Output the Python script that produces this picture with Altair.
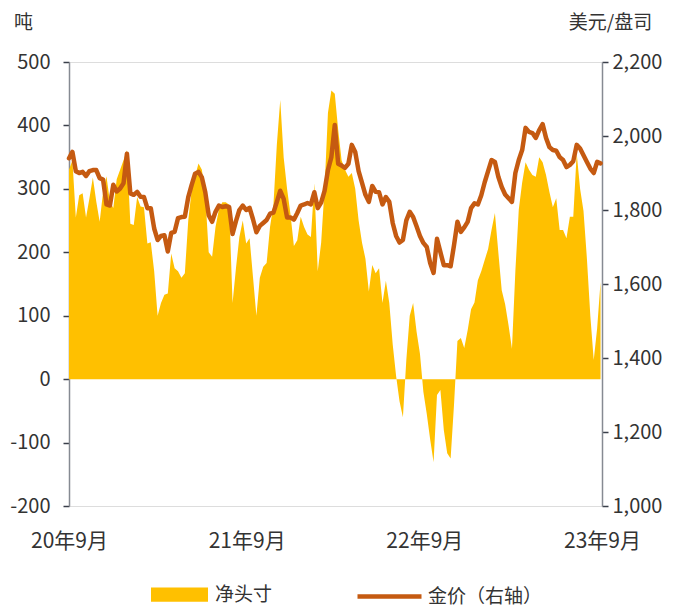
import altair as alt
import pandas as pd

net_position = [
    330, 345, 255, 290, 293, 255, 285, 318, 280, 248,
    295, 320, 280, 270, 315, 330, 345, 361, 245, 243,
    287, 272, 271, 214, 216, 170, 100, 120, 133, 135,
    198, 175, 170, 160, 167, 250, 298, 320, 340, 330,
    290, 200, 193, 240, 268, 279, 279, 275, 120, 175,
    224, 250, 214, 222, 161, 100, 160, 177, 183, 240,
    275, 370, 440, 350, 300, 260, 210, 219, 256, 240,
    228, 224, 309, 170, 215, 300, 420, 455, 450, 393,
    345, 330, 319, 325, 300, 250, 215, 190, 138, 180,
    167, 175, 120, 155, 120, 55, 5, -35, -60, 30,
    100, 120, 75, 40, -20, -55, -95, -131, -25, -17,
    -80, -117, -125, -40, 60, 65, 49, 77, 110, 121,
    156, 170, 188, 205, 235, 262, 200, 140, 118, 85,
    48, 170, 267, 310, 342, 330, 322, 319, 350, 342,
    322, 295, 271, 285, 235, 235, 222, 256, 256, 356,
    300, 265, 190, 100, 30, 80, 153,
]

gold_price = [
    1940, 1957, 1905, 1900, 1903, 1892, 1905, 1908, 1908, 1886,
    1882, 1815, 1812, 1868, 1850, 1858, 1872, 1952, 1845, 1841,
    1849, 1836, 1835, 1805, 1805, 1750, 1719, 1730, 1732, 1688,
    1738, 1741, 1778, 1781, 1782, 1835, 1868, 1898, 1903, 1888,
    1848, 1786, 1768, 1795, 1812, 1808, 1810, 1808, 1735, 1770,
    1800, 1812, 1800, 1806, 1775, 1740, 1757, 1765, 1773, 1790,
    1793, 1822, 1852, 1830, 1780, 1780, 1774, 1792, 1812, 1815,
    1819, 1815, 1848, 1805, 1820, 1852, 1908, 1943, 2030, 1925,
    1920, 1914, 1925, 1976, 1957, 1905, 1873, 1841, 1822, 1865,
    1849, 1848, 1815, 1835, 1822, 1765, 1730, 1712, 1719, 1772,
    1795, 1781, 1756, 1730, 1711, 1700, 1657, 1630, 1722, 1686,
    1651, 1651, 1648, 1705, 1768, 1741, 1753, 1768, 1805, 1818,
    1815, 1840, 1875, 1905, 1935, 1930, 1890, 1862, 1842, 1832,
    1822, 1900, 1935, 1962, 2022, 2011, 2008, 1995, 2016, 2032,
    1995, 1970, 1962, 1960, 1943, 1935, 1916, 1922, 1932, 1976,
    1966, 1948, 1930, 1912, 1900, 1930, 1926,
]

dates = pd.date_range("2020-09-01", periods=len(net_position), freq="7D")
x_tick_years = [2020, 2021, 2022, 2023]

df = pd.DataFrame({
    "date": dates.strftime("%Y-%m-%d"),
    "net": net_position,
    "gold": gold_price,
    "s1": "净头寸",
    "s2": "金价（右轴）",
})

FONT = "Noto Sans CJK SC"
TXT = "#333333"

x_enc = alt.X(
    "date:T",
    scale=alt.Scale(domain=[alt.DateTime(year=2020, month=9, date=1),
                            alt.DateTime(year=2023, month=9, date=1)]),
    axis=alt.Axis(
        title=None, grid=False, domain=False, ticks=False,
        values=[alt.DateTime(year=y, month=9, date=1) for y in x_tick_years],
        format="%y年%-m月", labelFontSize=21, labelColor=TXT, labelFont=FONT,
        labelPadding=24, labelFlush=False,
    ),
)

area = alt.Chart(df).mark_area(interpolate="linear").encode(
    x=x_enc,
    y=alt.Y(
        "net:Q",
        scale=alt.Scale(domain=[-200, 500], nice=False, zero=False),
        axis=alt.Axis(
            title="吨", titleAngle=0, titleX=-46, titleY=-40, titleAlign="center",
            titleBaseline="middle", titleFontSize=19, titleFontWeight="normal",
            titleColor=TXT, titleFont=FONT,
            values=[-200, -100, 0, 100, 200, 300, 400, 500],
            labelExpr="'' + datum.value",
            labelFontSize=20, labelColor=TXT, labelFont=FONT, labelPadding=13,
            grid=False, domainColor="#868a92", domainWidth=1.5,
            tickColor="#3a3f4a", tickSize=6, tickWidth=1.5,
        ),
    ),
    fill=alt.Fill(
        "s1:N",
        scale=alt.Scale(range=["#FFC000"]),
        legend=alt.Legend(
            title=None, orient="none", legendX=82, legendY=504,
            symbolType="M-1,-0.25H1V0.25H-1Z", symbolSize=3249,
            symbolStrokeWidth=0, symbolOpacity=1,
            labelFontSize=19, labelColor=TXT, labelFont=FONT, labelOffset=7,
        ),
    ),
)

line = alt.Chart(df).mark_line(strokeWidth=4.5, strokeCap="round", strokeJoin="round").encode(
    x=x_enc,
    y=alt.Y(
        "gold:Q",
        scale=alt.Scale(domain=[1000, 2200], nice=False, zero=False),
        axis=alt.Axis(
            orient="right",
            title="美元/盘司", titleAngle=0, titleX=8, titleY=-40, titleAlign="center",
            titleBaseline="middle", titleFontSize=19, titleFontWeight="normal",
            titleColor=TXT, titleFont=FONT,
            values=[1000, 1200, 1400, 1600, 1800, 2000, 2200], format=",d",
            labelFontSize=20, labelColor=TXT, labelFont=FONT, labelPadding=4,
            grid=False, domainColor="#868a92", domainWidth=1.5,
            tickColor="#3a3f4a", tickSize=6, tickWidth=1.5,
        ),
    ),
    stroke=alt.Stroke(
        "s2:N",
        scale=alt.Scale(range=["#C55A11"]),
        legend=alt.Legend(
            title=None, orient="none", legendX=286, legendY=500,
            symbolType="stroke", symbolSize=4096, symbolStrokeWidth=4.5,
            labelFontSize=19, labelColor=TXT, labelFont=FONT, labelOffset=4,
        ),
    ),
)

chart = alt.layer(area, line).resolve_scale(
    y="independent", fill="independent", stroke="independent"
).properties(
    width=533, height=444,
    autosize=alt.AutoSizeParams(type="none"),
    padding={"left": 61, "top": 54, "right": 67, "bottom": 101},
).configure_view(stroke=None).configure(font=FONT)

chart.save("out.html", embed_options={"renderer": "svg", "actions": False})
